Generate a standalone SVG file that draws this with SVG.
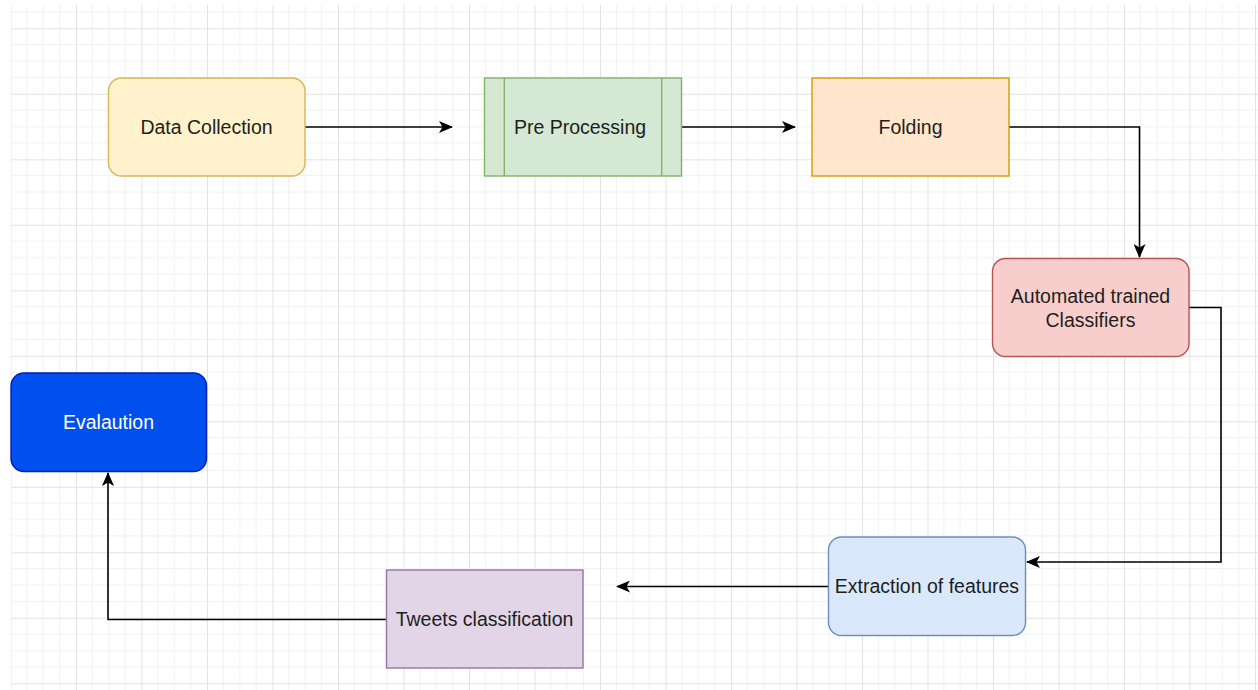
<svg xmlns="http://www.w3.org/2000/svg" width="1258" height="690" viewBox="0 0 1258 690">
  <defs>
    <pattern id="grid" patternUnits="userSpaceOnUse" x="10.5" y="28.3" width="65.5" height="65.5">
      <path d="M16.375,0 V65.5 M32.75,0 V65.5 M49.125,0 V65.5 M0,16.375 H65.5 M0,32.75 H65.5 M0,49.125 H65.5" stroke="#f1f1f1" stroke-width="1" fill="none"/>
      <path d="M0.5,0 V65.5 M0,0.5 H65.5" stroke="#e2e2e2" stroke-width="1" fill="none"/>
    </pattern>
    <marker id="arrow" markerUnits="userSpaceOnUse" viewBox="0 0 14 12" refX="13" refY="6" markerWidth="14" markerHeight="12" orient="auto">
      <path d="M0,0 L14,6 L0,12 L3.5,6 Z" fill="#000"/>
    </marker>
  </defs>
  <style>
    .lbl { font-family: "Liberation Sans", Arial, sans-serif; font-size: 19.5px; fill: #1e1e1e; text-anchor: middle; }
    .node { stroke-width: 1.4; }
    .edge { fill: none; stroke: #000; stroke-width: 1.6; marker-end: url(#arrow); }
  </style>
  <rect x="0" y="0" width="1258" height="690" fill="#ffffff"/>
  <rect x="11" y="5" width="1247" height="685" fill="url(#grid)"/>

  <g id="connectors">
    <path class="edge" d="M305,127 H452"/>
    <path class="edge" d="M682,127 H795"/>
    <path class="edge" d="M1009,127 H1139.5 V257"/>
    <path class="edge" d="M1189,307.5 H1221 V562 H1027"/>
    <path class="edge" d="M828,586.5 H617"/>
    <path class="edge" d="M386,619.5 H108 V473"/>
  </g>

  <g id="data-collection">
    <rect class="node" x="108.5" y="78" width="196.5" height="98" rx="13" fill="#fff2cc" stroke="#d6b656"/>
    <text class="lbl" x="206.5" y="134">Data Collection</text>
  </g>

  <g id="pre-processing">
    <rect class="node" x="484.5" y="78" width="197" height="98" fill="#d5e8d4" stroke="#82b366"/>
    <path class="node" d="M504.3,78 V176 M661.7,78 V176" stroke="#82b366" fill="none"/>
    <text class="lbl" x="580" y="134">Pre Processing</text>
  </g>

  <g id="folding">
    <rect class="node" x="812" y="78" width="197" height="98" fill="#ffe6cc" stroke="#d79b00"/>
    <text class="lbl" x="910.5" y="134">Folding</text>
  </g>

  <g id="automated-classifiers">
    <rect class="node" x="992.5" y="258.5" width="196.5" height="98" rx="13" fill="#f8cecc" stroke="#b85450"/>
    <text class="lbl" x="1090.5" y="303">Automated trained</text>
    <text class="lbl" x="1090.5" y="326.5">Classifiers</text>
  </g>

  <g id="extraction-features">
    <rect class="node" x="828.5" y="537" width="197" height="98.5" rx="13" fill="#dae8fc" stroke="#6c8ebf"/>
    <text class="lbl" x="927" y="593">Extraction of features</text>
  </g>

  <g id="tweets-classification">
    <rect class="node" x="386.5" y="570" width="196.5" height="98" fill="#e1d5e7" stroke="#9673a6"/>
    <text class="lbl" x="484.5" y="626">Tweets classification</text>
  </g>

  <g id="evaluation">
    <rect class="node" x="11" y="373" width="195.5" height="98.5" rx="13" fill="#0050ef" stroke="#001dbc"/>
    <text class="lbl" x="108.5" y="429" style="fill:#ffffff">Evalaution</text>
  </g>
</svg>
